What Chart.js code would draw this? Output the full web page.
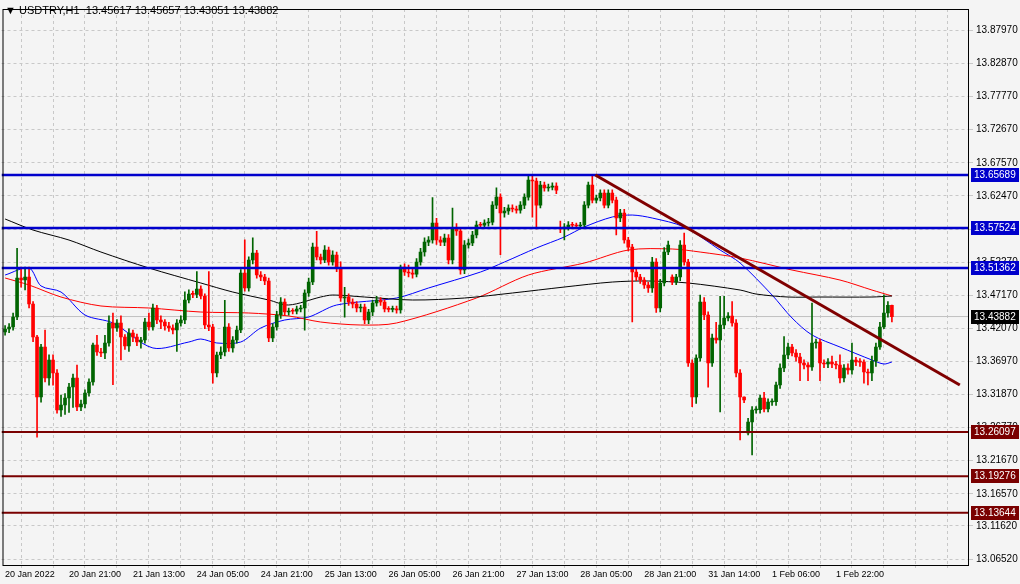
<!DOCTYPE html>
<html><head><meta charset="utf-8">
<script src="https://cdn.jsdelivr.net/npm/chart.js@4/dist/chart.umd.min.js"></script>
<style>
html,body{margin:0;padding:0;background:#f4f4f4;width:1020px;height:584px;overflow:hidden}
#wrap{position:relative;width:1020px;height:584px}
#title{position:absolute;left:5px;top:4px;font:11px "Liberation Sans",Arial,sans-serif;color:#000}
</style></head><body>
<div id="wrap"><canvas id="c" width="1020" height="584"></canvas>
<div id="title">▼ USDTRY,H1&nbsp; 13.45617 13.45657 13.43051 13.43882</div></div>
<script>
const closes=[13.4196,13.4227,13.4381,13.4982,13.4951,13.4997,13.4581,13.4073,13.3149,13.3919,
13.3442,13.3719,13.3519,13.2949,13.3026,13.3134,13.3303,13.3442,13.2995,13.3041,
13.3211,13.3380,13.3950,13.3842,13.3827,13.3981,13.4289,13.4212,13.4289,13.4073,
13.3935,13.4135,13.4073,13.3996,13.4027,13.4304,13.4227,13.4520,13.4335,13.4304,
13.4243,13.4212,13.4181,13.4289,13.4335,13.4643,13.4735,13.4730,13.4812,13.4705,
13.4258,13.4227,13.3519,13.3796,13.3842,13.4227,13.3904,13.4027,13.4181,13.5059,
13.4828,13.5259,13.5367,13.5028,13.4997,13.4936,13.4058,13.4227,13.4412,13.4612,
13.4458,13.4474,13.4470,13.4504,13.4520,13.4751,13.4920,13.5459,13.5305,13.5259,
13.5413,13.5228,13.5336,13.5136,13.4674,13.4689,13.4612,13.4581,13.4520,13.4535,
13.4335,13.4458,13.4597,13.4643,13.4612,13.4504,13.4500,13.4506,13.4489,13.5151,
13.5074,13.5059,13.5043,13.5228,13.5382,13.5536,13.5567,13.5829,13.5567,13.5536,
13.5598,13.5259,13.5752,13.5706,13.5105,13.5490,13.5521,13.5644,13.5798,13.5795,
13.5829,13.5844,13.6106,13.6229,13.5983,13.6014,13.6060,13.6045,13.6029,13.6106,
13.6229,13.6491,13.6476,13.6106,13.6414,13.6368,13.6383,13.6399,13.6337,13.5737,
13.5767,13.5798,13.5795,13.5783,13.5798,13.6106,13.6414,13.6183,13.6214,13.6291,
13.6106,13.6291,13.6183,13.5906,13.5983,13.5567,13.5459,13.5074,13.4997,13.4951,
13.4874,13.4828,13.5228,13.4520,13.4905,13.5382,13.5490,13.4920,13.4997,13.5490,
13.5228,13.3673,13.3149,13.3750,13.4612,13.4412,13.3673,13.4058,13.4027,13.4258,
13.4366,13.4397,13.4289,13.3519,13.3149,13.3103,13.2764,13.2949,13.2955,13.3134,
13.2965,13.3072,13.3075,13.3334,13.3596,13.3796,13.3919,13.3827,13.3765,13.3673,
13.3642,13.3611,13.3981,13.3996,13.3673,13.3657,13.3688,13.3657,13.3642,13.3442,
13.3596,13.3565,13.3719,13.3688,13.3685,13.3534,13.3519,13.3704,13.3919,13.4227,
13.4443,13.4562,13.4388];
const firstOpen=13.4150;
const gapOpens=[[139,13.5752],[167,13.4997],[186,13.2595]];
const highs=[13.425,13.428,13.444,13.544,13.515,13.515,13.515,13.462,13.410,13.396,
13.418,13.380,13.380,13.357,13.318,13.320,13.336,13.350,13.364,13.310,
13.326,13.343,13.398,13.410,13.390,13.410,13.440,13.444,13.434,13.440,
13.411,13.420,13.418,13.412,13.407,13.436,13.444,13.458,13.456,13.440,
13.434,13.430,13.426,13.434,13.440,13.477,13.480,13.478,13.508,13.486,
13.474,13.508,13.427,13.384,13.392,13.464,13.428,13.408,13.424,13.511,
13.557,13.531,13.560,13.541,13.508,13.504,13.498,13.428,13.447,13.468,
13.466,13.452,13.451,13.455,13.456,13.480,13.498,13.552,13.570,13.535,
13.548,13.546,13.540,13.538,13.523,13.484,13.474,13.466,13.462,13.458,
13.458,13.450,13.464,13.470,13.468,13.465,13.454,13.455,13.455,13.518,
13.520,13.518,13.512,13.528,13.544,13.560,13.562,13.622,13.590,13.562,
13.566,13.565,13.606,13.582,13.576,13.556,13.558,13.570,13.586,13.584,
13.588,13.590,13.616,13.637,13.628,13.607,13.611,13.611,13.609,13.616,
13.628,13.655,13.658,13.652,13.647,13.646,13.643,13.645,13.645,13.586,
13.582,13.585,13.584,13.583,13.584,13.616,13.646,13.657,13.626,13.634,
13.634,13.634,13.634,13.623,13.604,13.604,13.561,13.550,13.512,13.504,
13.499,13.492,13.530,13.528,13.496,13.545,13.555,13.503,13.504,13.556,
13.5675,13.527,13.372,13.380,13.472,13.468,13.446,13.412,13.430,13.470,
13.470,13.445,13.462,13.434,13.357,13.315,13.282,13.300,13.300,13.318,
13.322,13.312,13.312,13.338,13.366,13.408,13.398,13.396,13.388,13.382,
13.372,13.368,13.4597,13.404,13.404,13.372,13.374,13.378,13.370,13.380,
13.365,13.366,13.398,13.376,13.374,13.372,13.358,13.378,13.398,13.430,
13.4721,13.462,13.4566];
const lows=[13.410,13.414,13.418,13.434,13.484,13.480,13.452,13.400,13.253,13.307,
13.338,13.333,13.333,13.290,13.285,13.288,13.291,13.299,13.294,13.294,
13.298,13.316,13.333,13.379,13.377,13.374,13.393,13.334,13.416,13.372,
13.388,13.385,13.400,13.394,13.390,13.398,13.418,13.418,13.428,13.420,
13.418,13.416,13.412,13.385,13.424,13.428,13.460,13.468,13.468,13.466,
13.420,13.417,13.336,13.346,13.374,13.378,13.385,13.384,13.398,13.414,
13.478,13.478,13.520,13.498,13.494,13.488,13.400,13.400,13.418,13.436,
13.440,13.441,13.443,13.443,13.446,13.418,13.470,13.488,13.526,13.520,
13.522,13.518,13.518,13.508,13.462,13.438,13.456,13.452,13.446,13.446,
13.428,13.428,13.440,13.455,13.456,13.446,13.446,13.446,13.444,13.444,
13.502,13.500,13.498,13.500,13.518,13.532,13.548,13.552,13.550,13.548,
13.548,13.520,13.520,13.564,13.504,13.505,13.544,13.548,13.560,13.575,
13.575,13.578,13.580,13.605,13.534,13.592,13.596,13.600,13.598,13.598,
13.605,13.618,13.592,13.574,13.606,13.632,13.632,13.634,13.628,13.568,
13.5567,13.572,13.575,13.574,13.574,13.575,13.606,13.614,13.614,13.617,
13.606,13.606,13.614,13.5644,13.585,13.552,13.540,13.4304,13.494,13.490,
13.482,13.476,13.476,13.445,13.446,13.486,13.534,13.488,13.488,13.494,
13.518,13.362,13.300,13.305,13.370,13.434,13.330,13.362,13.398,13.2918,
13.420,13.432,13.424,13.346,13.2487,13.306,13.2565,13.2256,13.290,13.290,
13.292,13.292,13.302,13.302,13.328,13.354,13.374,13.378,13.370,13.340,
13.358,13.340,13.356,13.390,13.340,13.360,13.360,13.360,13.358,13.3365,
13.338,13.350,13.350,13.363,13.362,13.336,13.3334,13.340,13.362,13.388,
13.420,13.438,13.4305];
const maFastIdx=[0,6,9,14,20,27,37,46,49,53,59,64,70,76,83,98,106,119,125,133,140,145,152,157,162,170,179,184,192,197,202,209,217,220,222];
const maFast=[13.5028,13.5136,13.4859,13.4766,13.4412,13.4289,13.3904,13.3996,13.4042,13.3981,13.3996,13.4212,13.4335,13.4381,13.4566,13.4674,13.4828,13.5074,13.5228,13.5444,13.5614,13.5768,13.5922,13.5952,13.5906,13.5768,13.5413,13.5213,13.4720,13.4366,13.4104,13.3919,13.3719,13.3657,13.3688];
const maMidIdx=[0,6,14,24,36,49,61,71,79,89,98,118,131,145,156,167,174,184,197,209,217,222];
const maMid=[13.4982,13.4874,13.4689,13.4551,13.4520,13.4458,13.4443,13.4397,13.4304,13.4258,13.4289,13.4674,13.5028,13.5213,13.5413,13.5429,13.5382,13.5290,13.5105,13.4951,13.4797,13.4705];
const maSlowIdx=[0,7,16,24,36,49,57,66,71,79,82,90,102,115,127,140,152,161,171,184,188,196,204,217,222];
const maSlow=[13.5891,13.5721,13.5567,13.5382,13.5136,13.4905,13.4766,13.4643,13.4566,13.4689,13.4720,13.4689,13.4643,13.4674,13.4751,13.4843,13.4920,13.4936,13.4905,13.4797,13.4735,13.4689,13.4689,13.4689,13.4705];
const trendIdx=[147.75,239];
const trendVal=[13.6569,13.3334];
const resistLevels=[13.65689,13.57524,13.51362];
const supportLevels=[13.26097,13.19276,13.13644];
const lastPrice=13.43882;
const yTicks=[13.87970,13.82870,13.77770,13.72670,13.67570,13.62470,13.57370,13.52270,13.47170,13.42070,13.36970,13.31870,13.26770,13.21670,13.16570,13.11620,13.06520];
const xLabels=['20 Jan 2022','20 Jan 21:00','21 Jan 13:00','24 Jan 05:00','24 Jan 21:00','25 Jan 13:00','26 Jan 05:00','26 Jan 21:00','27 Jan 13:00','28 Jan 05:00','28 Jan 21:00','31 Jan 14:00','1 Feb 06:00','1 Feb 22:00'];
// price at top of the window and price per pixel
const priceAtTop=13.9265, pricePerPx=0.0015406;

const opens=[firstOpen,...closes.slice(0,-1)];
gapOpens.forEach(([i,v])=>opens[i]=v);
const UP='#006400',DN='#ff0000';
const col=closes.map((c,i)=>c>=opens[i]?UP:DN);
const bodies=closes.map((c,i)=>({x:i,y:[opens[i],c]}));
const wicks=closes.map((c,i)=>({x:i,y:[lows[i],highs[i]]}));
const XMIN=-0.9,XMAX=241.3;
const hl=(v)=>[{x:XMIN,y:v},{x:XMAX,y:v}];
const pts=(ix,vals)=>ix.map((x,k)=>({x,y:vals[k]}));
const ds=[];
ds.push({type:'bar',data:bodies,backgroundColor:col,borderWidth:0,barThickness:3,minBarLength:1,grouped:false,order:2});
ds.push({type:'bar',data:wicks,backgroundColor:col,borderWidth:0,barThickness:1,grouped:false,order:3});
ds.push({type:'line',data:hl(lastPrice),borderColor:'#c0c0c0',borderWidth:1,pointRadius:0,order:9});
ds.push({type:'line',data:pts(maSlowIdx,maSlow),borderColor:'#000000',borderWidth:1,pointRadius:0,tension:0.3,order:5});
ds.push({type:'line',data:pts(maMidIdx,maMid),borderColor:'#ff0000',borderWidth:1,pointRadius:0,tension:0.3,order:5});
ds.push({type:'line',data:pts(maFastIdx,maFast),borderColor:'#0000ff',borderWidth:1,pointRadius:0,tension:0.3,order:5});
resistLevels.forEach(v=>ds.push({type:'line',data:hl(v),borderColor:'#0000cc',borderWidth:2.5,pointRadius:0,order:1}));
supportLevels.forEach(v=>ds.push({type:'line',data:hl(v),borderColor:'#7a0000',borderWidth:2,pointRadius:0,order:1}));
ds.push({type:'line',data:pts(trendIdx,trendVal),borderColor:'#800000',borderWidth:3,pointRadius:0,order:0});

const boxes={id:'boxes',afterDraw(ch){
  const ctx=ch.ctx,ca=ch.chartArea,y=ch.scales.y;
  ctx.save();
  ctx.strokeStyle='#000';ctx.lineWidth=1;
  ctx.strokeRect(ca.left+1.5,ca.top+0.5,ca.right-ca.left-2,ca.bottom-ca.top);
  ctx.font='10px "Liberation Sans", Arial, sans-serif';ctx.textBaseline='middle';ctx.textAlign='left';
  const box=(v,bg)=>{const py=Math.round(y.getPixelForValue(v));ctx.fillStyle=bg;ctx.fillRect(ca.right+2,py-7,48,14);ctx.fillStyle='#fff';ctx.fillText(v.toFixed(5),ca.right+5,py+0.5);};
  resistLevels.forEach(v=>box(v,'#0000cc'));
  supportLevels.forEach(v=>box(v,'#7a0000'));
  box(lastPrice,'#000');
  ctx.restore();
}};
const bg={id:'bg',beforeDraw(ch){const c=ch.ctx;c.save();c.fillStyle='#f4f4f4';c.fillRect(0,0,ch.width,ch.height);c.restore();}};

const chart=new Chart(document.getElementById('c'),{
  data:{datasets:ds},
  options:{responsive:false,animation:false,devicePixelRatio:1,
    layout:{padding:0},
    plugins:{legend:{display:false},tooltip:{enabled:false}},
    scales:{
      x:{type:'linear',min:XMIN,max:XMAX,offset:false,
        afterBuildTicks(s){const t=[];for(let v=0;v<=232;v+=8)t.push({value:v});s.ticks=t;},
        afterFit(s){s.height=19;},
        ticks:{autoSkip:false,maxRotation:0,align:'start',padding:1,color:'#000',font:{family:'"Liberation Sans", Arial, sans-serif',size:9},
          callback(v){return v%16===0&&xLabels[v/16]?xLabels[v/16]:'';}},
        grid:{color:'#c8c8c8',tickLength:3,drawTicks:true},
        border:{display:false,dash:[3,3]}},
      y:{type:'linear',position:'right',min:13.0561,max:13.9265,
        afterBuildTicks(s){s.ticks=yTicks.map(v=>({value:v}));},
        afterFit(s){s.width=51;},
        ticks:{autoSkip:false,padding:3,color:'#000',font:{family:'"Liberation Sans", Arial, sans-serif',size:10},callback(v){return Number(v).toFixed(5);}},
        grid:{color:'#c8c8c8',tickLength:4},
        border:{display:false,dash:[3,3]}}
    }},
  plugins:[bg,boxes]
});
const ca=chart.chartArea;
chart.options.scales.y.max=priceAtTop-pricePerPx*ca.top;
chart.options.scales.y.min=priceAtTop-pricePerPx*ca.bottom;
chart.update('none');
</script></body></html>
